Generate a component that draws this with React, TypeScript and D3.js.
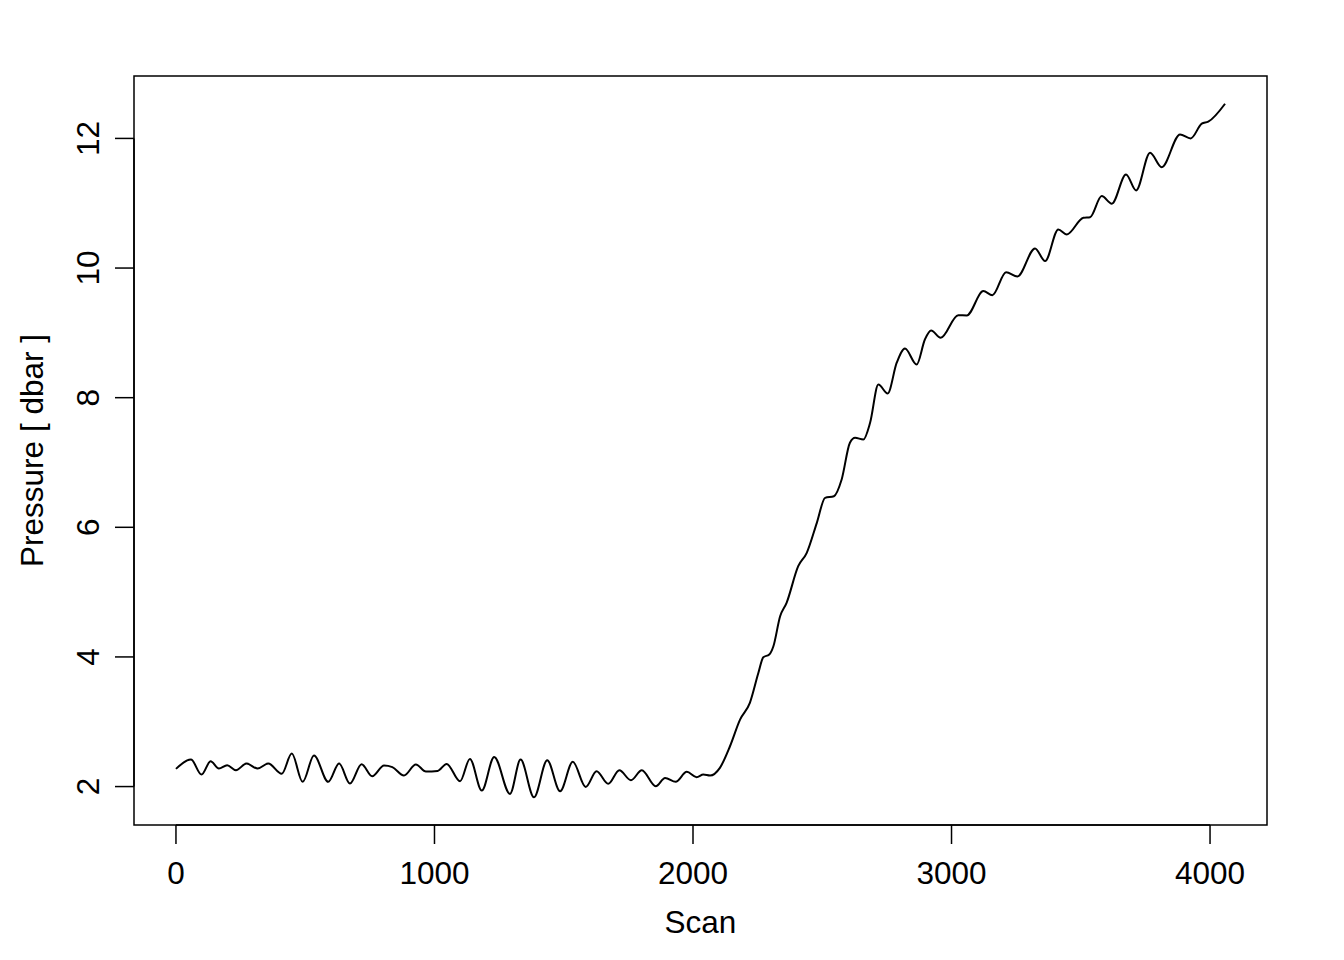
import React from "react";
import * as d3 from "d3";

const scans = [
  0, 58, 99, 134, 166, 198, 232, 273, 316, 357, 409, 448, 490, 534, 589, 631, 673, 718, 759, 805, 837, 882, 928, 967, 1012,
  1047, 1099, 1137, 1183, 1231, 1292, 1333, 1385, 1436, 1486, 1535, 1585, 1627, 1672, 1715, 1760, 1802, 1856, 1892, 1933, 1976, 2014,
  2040, 2066, 2104, 2143, 2182, 2220, 2253, 2272, 2295, 2311, 2337, 2362, 2407, 2440, 2479, 2511, 2545, 2575, 2607, 2627, 2659, 2685,
  2717, 2753, 2788, 2820, 2865, 2897, 2921, 2958, 3026, 3059, 3123, 3158, 3211, 3255, 3323, 3362, 3413, 3446, 3510, 3536, 3581, 3620,
  3675, 3714, 3768, 3813, 3884, 3925, 3968, 3993, 4058,
];
const pressures = [
  2.273, 2.417, 2.185, 2.39, 2.278, 2.329, 2.252, 2.355, 2.278, 2.355, 2.196, 2.509, 2.073, 2.478, 2.073, 2.355, 2.046, 2.344, 2.159, 2.324, 2.3, 2.17, 2.34, 2.231, 2.24,
  2.35, 2.082, 2.427, 1.938, 2.458, 1.887, 2.417, 1.835, 2.406, 1.927, 2.381, 1.995, 2.236, 2.042, 2.252, 2.097, 2.252, 2.005, 2.134, 2.073, 2.227, 2.144,
  2.185, 2.17, 2.289, 2.622, 3.034, 3.292, 3.755, 3.995, 4.037, 4.165, 4.628, 4.835, 5.4, 5.606, 6.069, 6.455, 6.48, 6.738, 7.304, 7.381, 7.355, 7.613,
  8.204, 8.065, 8.539, 8.759, 8.512, 8.898, 9.037, 8.924, 9.273, 9.269, 9.644, 9.582, 9.937, 9.87, 10.302, 10.107, 10.596, 10.519, 10.776, 10.785, 11.11, 10.992,
  11.444, 11.198, 11.779, 11.557, 12.062, 12.0, 12.227, 12.258, 12.535,
];
const xTicks = [0, 1000, 2000, 3000, 4000];
const yTicks = [2, 4, 6, 8, 10, 12];
const xLabel = "Scan";
const yLabel = "Pressure [ dbar ]";

const W = 1344;
const H = 960;
const plot = { left: 134, right: 1267, top: 76, bottom: 825 };
const font = "'Liberation Sans', Arial, Helvetica, sans-serif";

function pad(ext: [number, number]): [number, number] {
  const r = ext[1] - ext[0];
  return [ext[0] - 0.04 * r, ext[1] + 0.04 * r];
}

export default function App() {
  const data = scans.map((s, i) => ({ s, p: pressures[i] }));
  const x = d3.scaleLinear().domain(pad(d3.extent(scans) as [number, number])).range([plot.left, plot.right]);
  const y = d3.scaleLinear().domain(pad(d3.extent(pressures) as [number, number])).range([plot.bottom, plot.top]);
  const line = d3
    .line<{ s: number; p: number }>()
    .x((d) => x(d.s))
    .y((d) => y(d.p))
    .curve(d3.curveMonotoneX);
  const tick = 19;
  const fs = 31.5;
  return (
    <svg
      width={W}
      height={H}
      style={{ position: "absolute", left: 0, top: 0, display: "block", background: "#fff" }}
      fontFamily={font}
    >
      <rect x={0} y={0} width={W} height={H} fill="#fff" />
      <rect
        x={plot.left}
        y={plot.top}
        width={plot.right - plot.left}
        height={plot.bottom - plot.top}
        fill="none"
        stroke="#000"
        strokeWidth={1.5}
      />
      {/* x axis */}
      <line x1={x(xTicks[0])} x2={x(xTicks[xTicks.length - 1])} y1={plot.bottom} y2={plot.bottom} stroke="#000" strokeWidth={1.5} />
      {xTicks.map((t) => (
        <g key={"x" + t}>
          <line x1={x(t)} x2={x(t)} y1={plot.bottom} y2={plot.bottom + tick} stroke="#000" strokeWidth={1.5} />
          <text x={x(t)} y={884} fontSize={fs} textAnchor="middle" fill="#000">
            {t}
          </text>
        </g>
      ))}
      {/* y axis */}
      <line x1={plot.left} x2={plot.left} y1={y(yTicks[0])} y2={y(yTicks[yTicks.length - 1])} stroke="#000" strokeWidth={1.5} />
      {yTicks.map((t) => (
        <g key={"y" + t}>
          <line x1={plot.left - tick} x2={plot.left} y1={y(t)} y2={y(t)} stroke="#000" strokeWidth={1.5} />
          <text
            transform={`translate(99,${y(t)}) rotate(-90)`}
            fontSize={fs}
            textAnchor="middle"
            fill="#000"
          >
            {t}
          </text>
        </g>
      ))}
      <text x={(plot.left + plot.right) / 2} y={933} fontSize={fs} textAnchor="middle" fill="#000">
        {xLabel}
      </text>
      <text
        transform={`translate(43,${(plot.top + plot.bottom) / 2}) rotate(-90)`}
        fontSize={fs}
        textAnchor="middle"
        fill="#000"
      >
        {yLabel}
      </text>
      <path d={line(data) ?? ""} fill="none" stroke="#000" strokeWidth={2} strokeLinejoin="round" />
    </svg>
  );
}
